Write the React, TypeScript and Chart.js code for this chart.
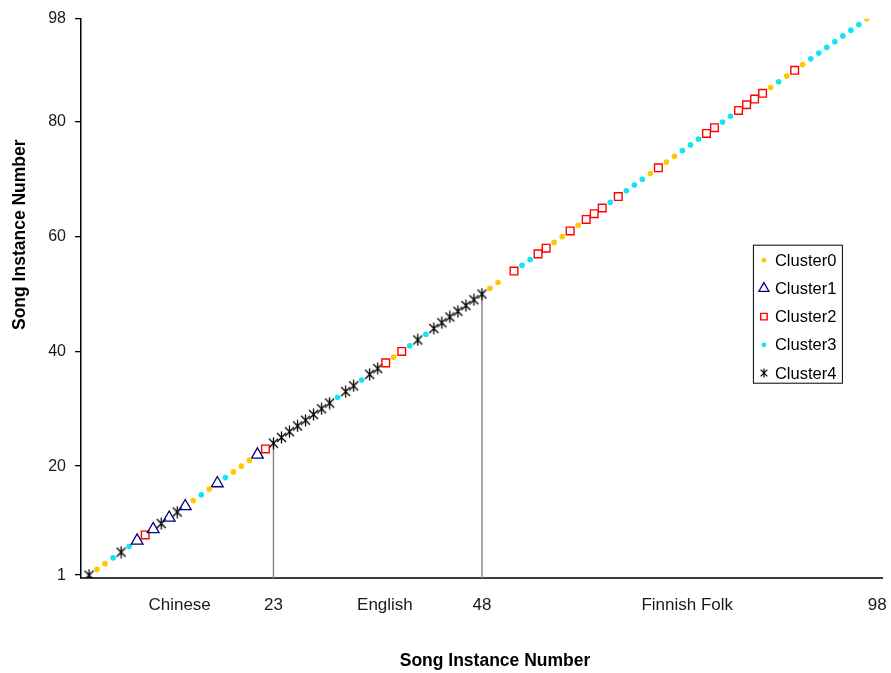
import React, { useEffect, useRef } from "react";
import { Chart, registerables } from "chart.js";
import { drawPoint } from "chart.js/helpers";

Chart.register(...registerables);

// ---- data (song instance numbers in each cluster; each song i is plotted at (i, i)) ----
const cluster0 = [2, 3, 14, 16, 19, 20, 21, 39, 51, 52, 59, 60, 62, 71, 73, 74, 86, 88, 90, 98];
const cluster1 = [7, 9, 11, 13, 17, 22];
const cluster2 = [8, 23, 38, 40, 54, 57, 58, 61, 63, 64, 65, 67, 72, 78, 79, 82, 83, 84, 85, 89];
const cluster3 = [4, 6, 15, 18, 32, 35, 41, 43, 55, 56, 66, 68, 69, 70, 75, 76, 77, 80, 81, 87, 91, 92, 93, 94, 95, 96, 97];
const cluster4 = [1, 5, 10, 12, 24, 25, 26, 27, 28, 29, 30, 31, 33, 34, 36, 37, 42, 44, 45, 46, 47, 48, 49, 50];
const clusterNames = ["Cluster0", "Cluster1", "Cluster2", "Cluster3", "Cluster4"];

// boundaries between song groups (drawn as drop lines from the axis to the song's point)
const boundarySongs = [24, 50];

// axis ticks
const xTickValues = [12.3, 24, 37.9, 50, 75.6, 99.3];
const xTickLabels = ["Chinese", "23", "English", "48", "Finnish Folk", "98"];
const yTickValues = [1, 20, 40, 60, 80, 98];
const yTickLabels = ["1", "20", "40", "60", "80", "98"];
const xAxisTitle = "Song Instance Number";
const yAxisTitle = "Song Instance Number";

const X_MIN = 0;
const X_MAX = 100;
const Y_MIN = 0.5;
const Y_MAX = 98;

function makeStar(size: number, color: string, lw: number): HTMLCanvasElement {
  const c = document.createElement("canvas");
  c.width = size;
  c.height = size;
  const g = c.getContext("2d")!;
  g.strokeStyle = color;
  g.lineWidth = lw;
  const m = size / 2;
  const r = size / 2 - 0.5;
  const d = r * 0.75;
  g.beginPath();
  g.moveTo(m, m - r);
  g.lineTo(m, m + r);
  g.moveTo(m - d, m - d);
  g.lineTo(m + d, m + d);
  g.moveTo(m + d, m - d);
  g.lineTo(m - d, m + d);
  g.stroke();
  return c;
}

const FONT = "'Liberation Sans', Arial, sans-serif";

const overlayPlugin = {
  id: "overlay",
  afterDraw(chart: any) {
    const ctx = chart.ctx;
    const ca = chart.chartArea;
    ctx.save();
    // axis titles
    ctx.fillStyle = "#000";
    ctx.font = `bold 17.5px ${FONT}`;
    ctx.textAlign = "center";
    ctx.textBaseline = "middle";
    ctx.fillText(xAxisTitle, ca.left + 414, ca.bottom + 83);
    ctx.save();
    ctx.translate(20, ca.top + 216);
    ctx.rotate(-Math.PI / 2);
    ctx.fillText(yAxisTitle, 0, 0);
    ctx.restore();

    // legend box
    const lx = ca.right - 130;
    const ly = ca.top + 226;
    const lw = 89;
    const lh = 138;
    ctx.fillStyle = "#fff";
    ctx.fillRect(lx, ly, lw, lh);
    ctx.strokeStyle = "#000";
    ctx.lineWidth = 1;
    ctx.strokeRect(lx + 0.5, ly + 0.5, lw, lh);
    ctx.font = `16.5px ${FONT}`;
    ctx.textAlign = "left";
    ctx.textBaseline = "middle";
    const rowH = 28.2;
    for (let i = 0; i < clusterNames.length; i++) {
      const ds = chart.data.datasets[i];
      const cy = ly + 15.5 + i * rowH;
      const mx = lx + 11;
      ctx.save();
      ctx.fillStyle = ds.backgroundColor;
      ctx.strokeStyle = ds.borderColor;
      ctx.lineWidth = ds.borderWidth;
      drawPoint(
        ctx,
        {
          pointStyle: ds.legendStyle || ds.pointStyle,
          radius: ds.pointRadius * 0.85,
          rotation: 0,
          borderWidth: ds.borderWidth,
        } as any,
        mx,
        cy
      );
      ctx.restore();
      ctx.fillStyle = "#000";
      ctx.fillText(clusterNames[i], lx + 22, cy + 1);
    }
    ctx.restore();
  },
};

export default function App() {
  const ref = useRef<HTMLCanvasElement | null>(null);

  useEffect(() => {
    document.body.style.margin = "0";
    const canvas = ref.current;
    if (!canvas) return;
    const star = makeStar(13, "#000", 1.3);
    const starSmall = makeStar(10, "#000", 1.2);
    const toPts = (arr: number[]) => arr.map((s) => ({ x: s, y: s }));

    const clusterDatasets: any[] = [
      {
        label: clusterNames[0],
        data: toPts(cluster0),
        pointStyle: "circle",
        pointRadius: 2.8,
        backgroundColor: "#FFC800",
        borderColor: "#FFC800",
        borderWidth: 0,
      },
      {
        label: clusterNames[1],
        data: toPts(cluster1),
        pointStyle: "triangle",
        pointRadius: 6.8,
        backgroundColor: "rgba(255,255,255,0)",
        borderColor: "#000080",
        borderWidth: 1.3,
      },
      {
        label: clusterNames[2],
        data: toPts(cluster2),
        pointStyle: "rect",
        pointRadius: 5.4,
        backgroundColor: "rgba(255,255,255,0)",
        borderColor: "#FF0000",
        borderWidth: 1.4,
      },
      {
        label: clusterNames[3],
        data: toPts(cluster3),
        pointStyle: "circle",
        pointRadius: 2.8,
        backgroundColor: "#12E4F6",
        borderColor: "#12E4F6",
        borderWidth: 0,
      },
      {
        label: clusterNames[4],
        data: toPts(cluster4),
        pointStyle: star,
        legendStyle: starSmall,
        pointRadius: 6,
        backgroundColor: "#000",
        borderColor: "#000",
        borderWidth: 1,
      },
    ];

    const boundaryDatasets = boundarySongs.map((s) => ({
      label: "boundary " + s,
      data: [
        { x: s, y: Y_MIN },
        { x: s, y: s },
      ],
      showLine: true,
      borderColor: "#8c8c8c",
      borderWidth: 1.5,
      pointRadius: 0,
      backgroundColor: "#8c8c8c",
    }));

    const chart = new Chart(canvas, {
      type: "scatter",
      data: { datasets: [...clusterDatasets, ...boundaryDatasets] },
      options: {
        animation: false,
        responsive: true,
        maintainAspectRatio: false,
        layout: { padding: { top: 18.7, right: 7, bottom: 0, left: 0 } },
        plugins: {
          legend: { display: false },
          tooltip: { enabled: false },
        },
        scales: {
          x: {
            type: "linear",
            min: X_MIN,
            max: X_MAX,
            afterBuildTicks: (scale: any) => {
              scale.ticks = xTickValues.map((v) => ({ value: v }));
            },
            afterFit: (scale: any) => {
              scale.height = 95;
              scale.paddingLeft = 0;
              scale.paddingRight = 0;
            },
            ticks: {
              autoSkip: false,
              maxRotation: 0,
              padding: 17,
              color: "#1a1a1a",
              font: { family: FONT, size: 17 },
              callback: (_v: any, i: number) => xTickLabels[i],
            },
            grid: { drawOnChartArea: false, drawTicks: false },
            border: { display: true, color: "#3c3c3c", width: 2 },
          },
          y: {
            type: "linear",
            min: Y_MIN,
            max: Y_MAX,
            afterBuildTicks: (scale: any) => {
              scale.ticks = yTickValues.map((v) => ({ value: v }));
            },
            afterFit: (scale: any) => {
              scale.width = 81;
              scale.paddingTop = 0;
              scale.paddingBottom = 0;
            },
            ticks: {
              autoSkip: false,
              padding: 9,
              color: "#1a1a1a",
              font: { family: FONT, size: 16 },
              callback: (_v: any, i: number) => yTickLabels[i],
            },
            grid: {
              drawOnChartArea: false,
              drawTicks: true,
              tickLength: 6,
              color: "#000",
              lineWidth: 1.3,
            },
            border: { display: true, color: "#000", width: 1.5 },
          },
        },
      },
      plugins: [overlayPlugin],
    });
    return () => chart.destroy();
  }, []);

  return (
    <div style={{ width: 891, height: 673, position: "relative", background: "#fff" }}>
      <canvas ref={ref} />
    </div>
  );
}
